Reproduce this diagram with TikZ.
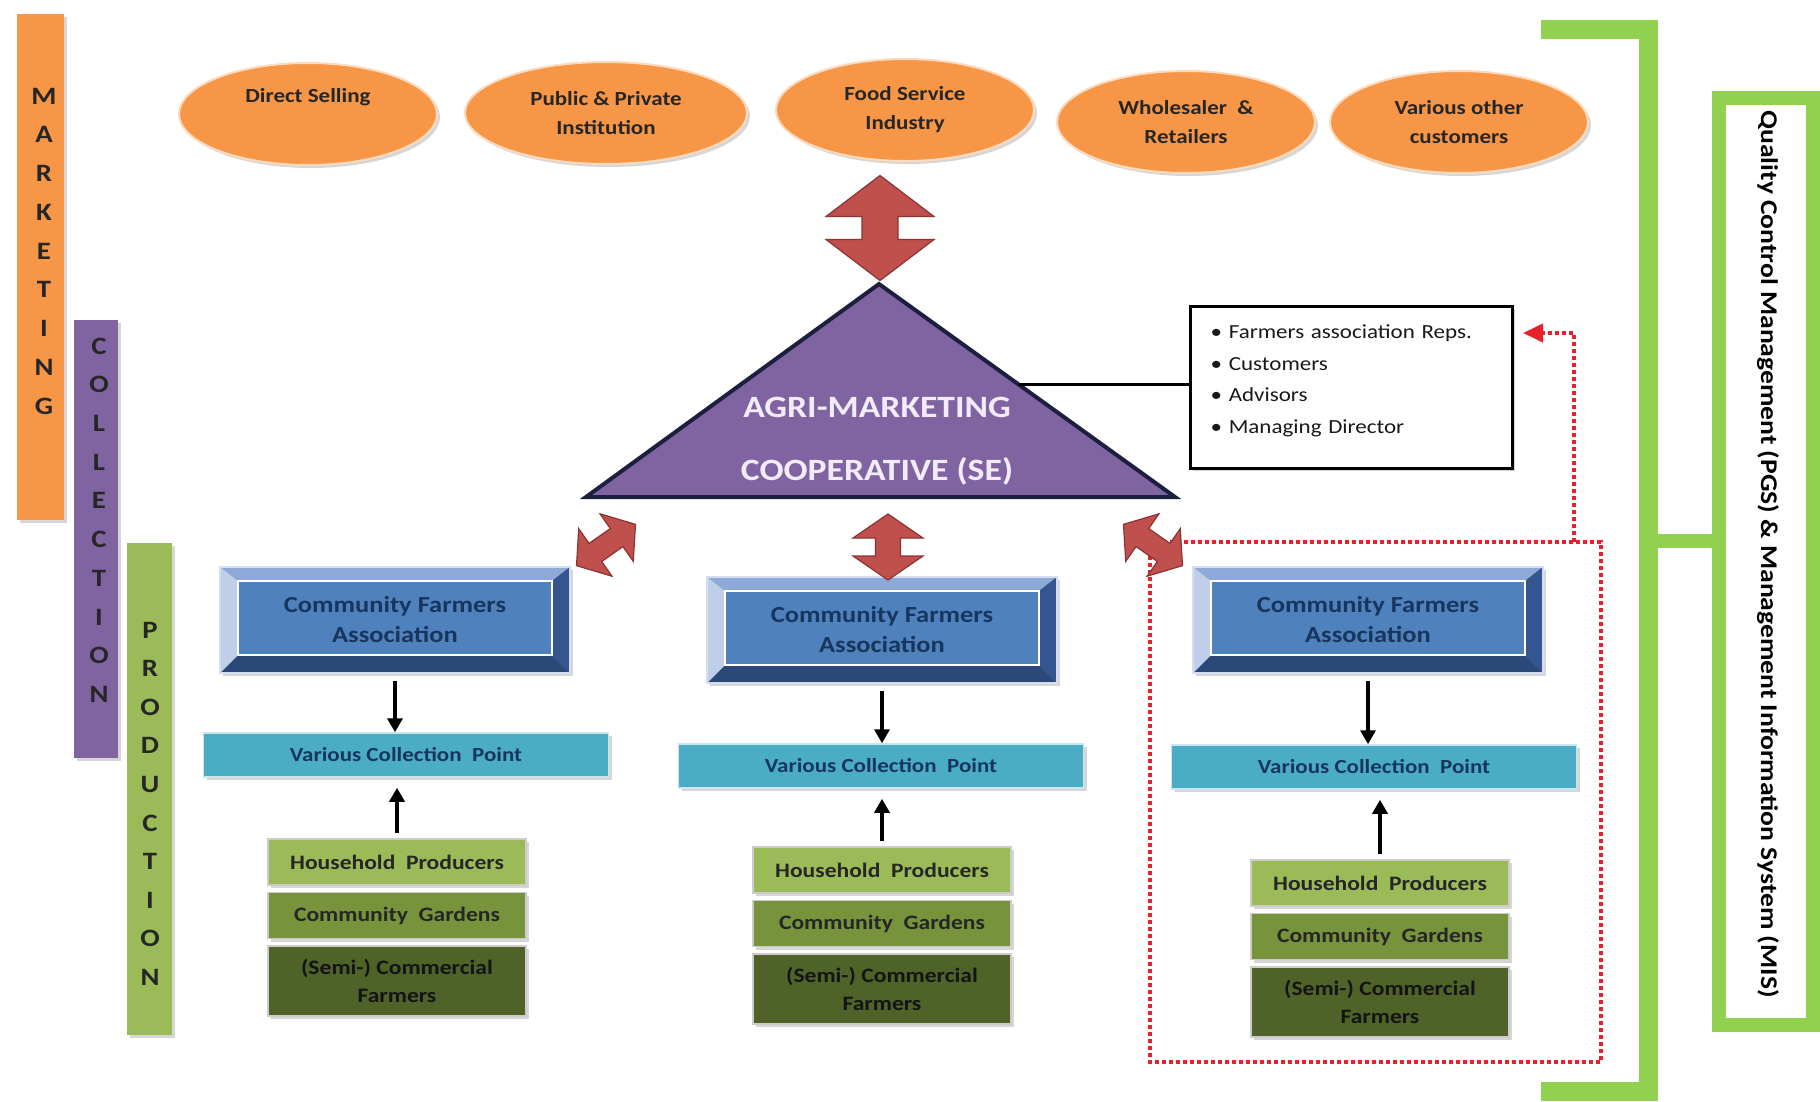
\documentclass[tikz,border=0pt]{standalone}
\usepackage{fontspec}
\setmainfont{Carlito}[FakeStretch=1.15]
\usetikzlibrary{positioning,shapes.geometric,shadows,arrows.meta,calc}

\definecolor{mkorange}{HTML}{F79646}
\definecolor{colpurple}{HTML}{8064A2}
\definecolor{prodgreen}{HTML}{9BBB59}
\definecolor{qcgreen}{HTML}{92D050}
\definecolor{cfaface}{HTML}{4F81BD}
\definecolor{cfatop}{HTML}{8EA9D8}
\definecolor{cfaleft}{HTML}{BFCFEA}
\definecolor{cfaright}{HTML}{34558F}
\definecolor{cfabottom}{HTML}{2B4878}
\definecolor{cpaqua}{HTML}{4BACC6}
\definecolor{hhgreen}{HTML}{9BBB59}
\definecolor{cggreen}{HTML}{77933C}
\definecolor{scgreen}{HTML}{4F6228}
\definecolor{arrowred}{HTML}{C0504D}
\definecolor{arrowedge}{HTML}{8C3331}
\definecolor{navytext}{HTML}{17365D}
\definecolor{tribord}{HTML}{1C1F3E}
\definecolor{tritext}{HTML}{F2ECFA}
\definecolor{dotred}{HTML}{E8202A}

\tikzset{
  softshadow/.style={drop shadow={shadow xshift=3pt, shadow yshift=-3pt, opacity=0.35, fill=black!45}},
  sidebar/.style={rectangle, inner sep=0pt, softshadow},
  barletter/.style={font=\fontsize{25}{25}\selectfont\bfseries, text=black!85, inner sep=0pt},
  market/.style={ellipse, fill=mkorange, draw=white!65!mkorange, line width=2pt,
    minimum width=258pt, minimum height=102pt, inner sep=0pt, align=center,
    font=\fontsize{20}{29}\selectfont\bfseries, text=black!85, softshadow},
  cfa/.style={rectangle, fill=cfaface, draw=white!75!cfaface, line width=1.5pt,
    minimum width=350pt, minimum height=106pt, inner sep=0pt, align=center,
    text=navytext, font=\fontsize{23}{30}\selectfont\bfseries, softshadow,
    path picture={
      \fill[cfatop] (path picture bounding box.north west) -- (path picture bounding box.north east)
        -- ([xshift=-18pt,yshift=-14pt]path picture bounding box.north east)
        -- ([xshift=18pt,yshift=-14pt]path picture bounding box.north west) -- cycle;
      \fill[cfabottom] (path picture bounding box.south west) -- (path picture bounding box.south east)
        -- ([xshift=-18pt,yshift=18pt]path picture bounding box.south east)
        -- ([xshift=18pt,yshift=18pt]path picture bounding box.south west) -- cycle;
      \fill[cfaleft] (path picture bounding box.north west)
        -- ([xshift=18pt,yshift=-14pt]path picture bounding box.north west)
        -- ([xshift=18pt,yshift=18pt]path picture bounding box.south west)
        -- (path picture bounding box.south west) -- cycle;
      \fill[cfaright] (path picture bounding box.north east)
        -- ([xshift=-18pt,yshift=-14pt]path picture bounding box.north east)
        -- ([xshift=-18pt,yshift=18pt]path picture bounding box.south east)
        -- (path picture bounding box.south east) -- cycle;
      \draw[white, line width=2pt] ([xshift=18pt,yshift=-14pt]path picture bounding box.north west)
        rectangle ([xshift=-18pt,yshift=18pt]path picture bounding box.south east);
    }},
  cp/.style={rectangle, fill=cpaqua, draw=white!70!cpaqua, line width=1.5pt,
    minimum width=405pt, minimum height=44pt, inner sep=0pt,
    font=\fontsize{20}{24}\selectfont\bfseries, text=navytext, softshadow},
  prod/.style={rectangle, minimum width=258pt, draw=white!80!black, line width=1.5pt,
    inner sep=0pt, align=center, font=\fontsize{20.5}{28}\selectfont\bfseries,
    text=black!85, softshadow},
  hh/.style={prod, fill=hhgreen, minimum height=46pt},
  cg/.style={prod, fill=cggreen, minimum height=46pt},
  sc/.style={prod, fill=scgreen, minimum height=70pt, text=black!92},
  blkarrow/.style={line width=3.5pt, -{Triangle[length=14pt,width=15pt]}},
  tritext/.style={align=center, text=tritext, font=\fontsize{31}{63}\selectfont\bfseries},
  board/.style={rectangle, draw=black, line width=3pt, fill=white,
    minimum width=322pt, minimum height=162pt, softshadow},
  boardlist/.style={text width=295pt, align=left, inner sep=0pt,
    font=\fontsize{20}{31.5}\selectfont, text=black!90},
  qcdots/.style={draw=dotred, line width=4pt, dash pattern=on 4pt off 3pt},
  qcbox/.style={rectangle, draw=qcgreen, fill=white, line width=14pt,
    minimum width=94.5pt, minimum height=927pt},
  qctext/.style={font=\fontsize{24}{24}\selectfont\bfseries, text=black},
  pics/dblarrow/.style args={#1/#2/#3/#4}{code={
    \filldraw[fill=arrowred, draw=arrowedge, line width=1.2pt, line join=miter]
      (-#1/2,0) -- (-#1/2+#4,-#2/2) -- (-#1/2+#4,-#3/2) -- (#1/2-#4,-#3/2)
      -- (#1/2-#4,-#2/2) -- (#1/2,0) -- (#1/2-#4,#2/2) -- (#1/2-#4,#3/2)
      -- (-#1/2+#4,#3/2) -- (-#1/2+#4,#2/2) -- cycle;
  }}
}

\begin{document}
\begin{tikzpicture}[x=1pt,y=-1pt]
  \fill[white] (0,0) rectangle (1820,1101);
  \useasboundingbox (0,0) rectangle (1820,1101);

  % layer bars on the left
  \node[sidebar, fill=mkorange, minimum width=47pt, minimum height=506pt] (mkbar) at (40.5,267) {};
  \node[sidebar, fill=colpurple, minimum width=44pt, minimum height=438pt] (colbar) at (96,539) {};
  \node[sidebar, fill=prodgreen, minimum width=45pt, minimum height=492pt] (prodbar) at (149.5,789) {};
  \foreach \l [count=\i] in {M,A,R,K,E,T,I,N,G}
    \node[barletter] (mk\i) at (44,{96+38.75*(\i-1)}) {\l};
  \foreach \l [count=\i] in {C,O,L,L,E,C,T,I,O,N}
    \node[barletter] (cl\i) at (99,{346+38.7*(\i-1)}) {\l};
  \foreach \l [count=\i] in {P,R,O,D,U,C,T,I,O,N}
    \node[barletter] (pr\i) at (150,{630+38.6*(\i-1)}) {\l};

  % customers
  \node[market] (direct) at (308,114) {Direct Selling\\\strut};
  \node[market, minimum width=282pt] (public) at (606,113) {Public \& Private\\Institution};
  \node[market] (food) at (905,110) {Food Service\\Industry};
  \node[market] (whole) at (1186,122) {Wholesaler~\ \&\\Retailers};
  \node[market] (various) at (1459,122) {Various other\\customers};

  % cooperative
  \coordinate (apex) at (879,284);
  \coordinate (baseL) at (586,497);
  \coordinate (baseR) at (1175,497);
  \filldraw[fill=colpurple, draw=tribord, line width=4pt, line join=miter]
    (apex) -- (baseR) -- (baseL) -- cycle;
  \node[tritext] (coop) at (877,441) {AGRI-MARKETING\\COOPERATIVE (SE)};

  % board
  \node[board] (board) at (1351,387) {};
  \node[boardlist, anchor=west] (boardlist) at ([xshift=22pt,yshift=6pt]board.west)
    {\textbullet\ Farmers association Reps.\\\textbullet\ Customers\\\textbullet\ Advisors\\\textbullet\ Managing Director};
  \coordinate (triedge) at ($(apex)!0.474!(baseR)$);
  \draw[line width=3pt] (triedge) -- (triedge -| board.west);

  % quality control loop
  \coordinate (qcNW) at (1150,542);
  \coordinate (qcSE) at (1601,1062);
  \coordinate (qcup) at (1574,542);
  \coordinate (qctip) at (1523,333);
  \draw[qcdots] (qcNW) rectangle (qcSE);
  \draw[qcdots, -{Triangle[length=20pt,width=18pt]}] (qcup) |- (qctip);

  % farmer columns
  \foreach \i/\xa/\ya/\xb/\yb/\xc/\yc in {1/395/620/406/755/397/862,
      2/882/630/881/766/882/870, 3/1368/620/1374/767/1380/883} {
    \node[cfa] (cfa\i) at (\xa,\ya) {Community Farmers\\Association};
    \node[cp] (cp\i) at (\xb,\yb) {Various Collection~\ Point};
    \node[hh] (hh\i) at (\xc,\yc) {Household~\ Producers};
    \node[cg, below=6pt of hh\i] (cg\i) {Community~\ Gardens};
    \node[sc, below=6pt of cg\i] (sc\i) {(Semi-) Commercial\\Farmers};
    \draw[blkarrow] ([yshift=-7pt]cfa\i.south) -- (cfa\i.south |- cp\i.north);
    \draw[blkarrow] ([yshift=5pt]hh\i.north) -- ([yshift=-10pt]hh\i.north |- cp\i.south);
  }

  % red block arrows
  \pic[rotate=90] at (880,228) {dblarrow=105/108/36/41};
  \pic[rotate=90] at (888,547) {dblarrow=66/70/25/24};
  \pic[rotate=35] at (606,545) {dblarrow=72/58/22/23};
  \pic[rotate=-35] at (1153,545) {dblarrow=72/58/22/23};

  % quality control bracket
  \draw[qcgreen, line width=19pt, line join=miter] (1541,29) -- (1648,29) -- (1648,1091) -- (1541,1091);
  \node[qcbox] (qcbox) at (1766,561.5) {};
  \draw[qcgreen, line width=14pt] (1648,541) -- (qcbox.west |- 0,541);
  \node[qctext, rotate=-90] (qclabel) at (1768,554)
    {Quality Control Management (PGS) \& Management Information System (MIS)};
\end{tikzpicture}
\end{document}
